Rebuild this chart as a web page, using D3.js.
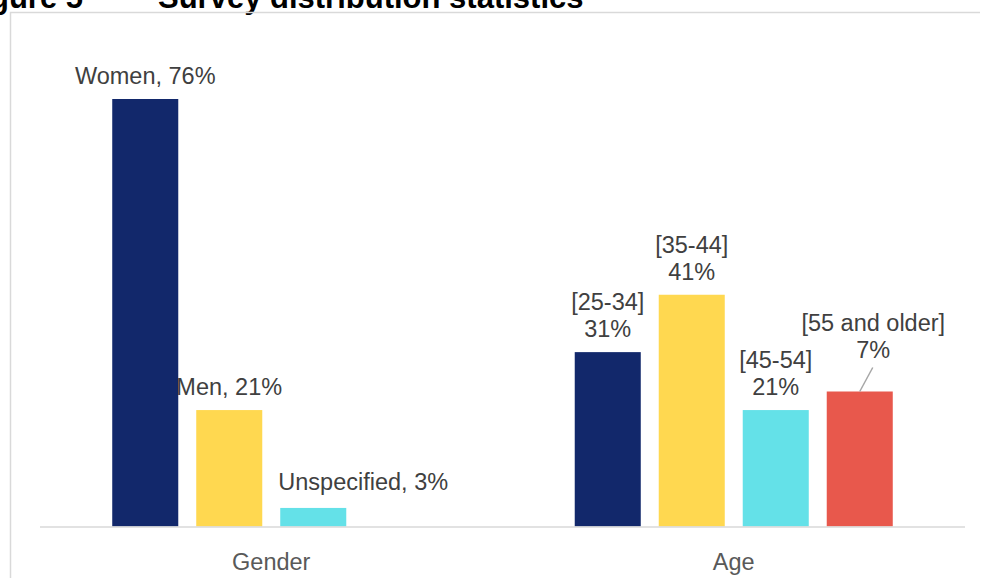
<!DOCTYPE html>
<html>
<head>
<meta charset="utf-8">
<script src="https://cdn.jsdelivr.net/npm/d3@7"></script>
<style>
  html, body { margin: 0; padding: 0; background: #fff; }
  svg { display: block; font-family: "Liberation Sans", Arial, sans-serif; }
</style>
</head>
<body>
<div id="chart"></div>
<script>
const categories = ["Gender", "Age"];

const genderNames  = ["Women", "Men", "Unspecified"];
const genderValues = [76, 20.7, 3.3];     // bar heights as drawn
const genderShown  = [76, 21, 3];         // values printed in labels

const ageNames  = ["[25-34]", "[35-44]", "[45-54]", "[55 and older]"];
const ageValues = [31, 41.2, 20.7, 24];
const ageShown  = [31, 41, 21, 7];

const barColors = ["#12286b", "#ffd850", "#64e1e8", "#e8584c"];

const width = 981, height = 578;
const baseY = 526.5;

const svg = d3.select("#chart").append("svg")
  .attr("width", width).attr("height", height);

// title (cut by the top edge, like the source)
svg.append("text")
  .attr("x", 83).attr("y", 8)
  .attr("text-anchor", "end")
  .attr("font-size", 31).attr("font-weight", "bold").attr("fill", "#000")
  .text("Figure 5");
svg.append("text")
  .attr("x", 158).attr("y", 8)
  .attr("font-size", 31).attr("font-weight", "bold").attr("fill", "#000")
  .text("Survey distribution statistics");

// frame
svg.append("path")
  .attr("d", `M10.5,${height}V12.5H980`)
  .attr("fill", "none").attr("stroke", "#d9d9d9").attr("stroke-width", 1.5);

// scales
const x0 = d3.scaleBand().domain(categories).range([40, 965]);
const slots = d3.range(4);
const y = d3.scaleLinear().domain([0, 80]).range([baseY, 76.5]);

function inner(cat) {
  const c = x0(cat) + x0.bandwidth() / 2;
  return d3.scaleBand().domain(slots).range([c - 168, c + 168])
    .paddingInner(0.214).paddingOuter(0.107);
}

const groups = [
  { cat: "Gender", names: genderNames, values: genderValues, shown: genderShown, twoLine: false },
  { cat: "Age",    names: ageNames,    values: ageValues,    shown: ageShown,    twoLine: true }
];

// manual label nudges (dx, dy from default spot above bar)
const nudges = {
  "Unspecified": [50, -3],
  "[55 and older]": [13.5, -19]
};

groups.forEach(g => {
  const x1 = inner(g.cat);
  const rows = g.values.map((v, i) => ({ v, i, name: g.names[i], shown: g.shown[i] }));

  svg.append("g").selectAll("rect")
    .data(rows).join("rect")
      .attr("x", d => x1(d.i))
      .attr("width", x1.bandwidth())
      .attr("y", d => y(d.v))
      .attr("height", d => baseY - y(d.v))
      .attr("fill", d => barColors[d.i]);

  const lab = svg.append("g")
    .attr("font-size", 23.5).attr("fill", "#404040").attr("text-anchor", "middle");

  rows.forEach(d => {
    const [dx, dy] = nudges[d.name] || [0, 0];
    const cx = x1(d.i) + x1.bandwidth() / 2 + dx;
    const by = y(d.v) - 15 + dy;
    if (g.twoLine) {
      const t = lab.append("text").attr("x", cx).attr("y", by - 27);
      t.append("tspan").attr("x", cx).text(d.name);
      t.append("tspan").attr("x", cx).attr("dy", 27).text(d.shown + "%");
    } else {
      lab.append("text").attr("x", cx).attr("y", by).text(`${d.name}, ${d.shown}%`);
    }
    if (dy < -10) {
      // leader line back to the bar
      svg.append("line")
        .attr("x1", cx - 0.5).attr("y1", by + 10)
        .attr("x2", x1(d.i) + x1.bandwidth() / 2).attr("y2", y(d.v))
        .attr("stroke", "#a6a6a6").attr("stroke-width", 1.5);
    }
  });
});

// category axis
const xAxis = svg.append("g")
  .attr("transform", `translate(0,${baseY})`)
  .call(d3.axisBottom(x0).tickSize(0).tickPadding(27));
xAxis.select(".domain").attr("stroke", "#d9d9d9").attr("stroke-width", 1.5)
  .attr("d", "M40,0.5H965");
xAxis.selectAll("text")
  .attr("font-family", "Liberation Sans, Arial, sans-serif")
  .attr("font-size", 23.5).attr("fill", "#595959");
</script>
</body>
</html>
